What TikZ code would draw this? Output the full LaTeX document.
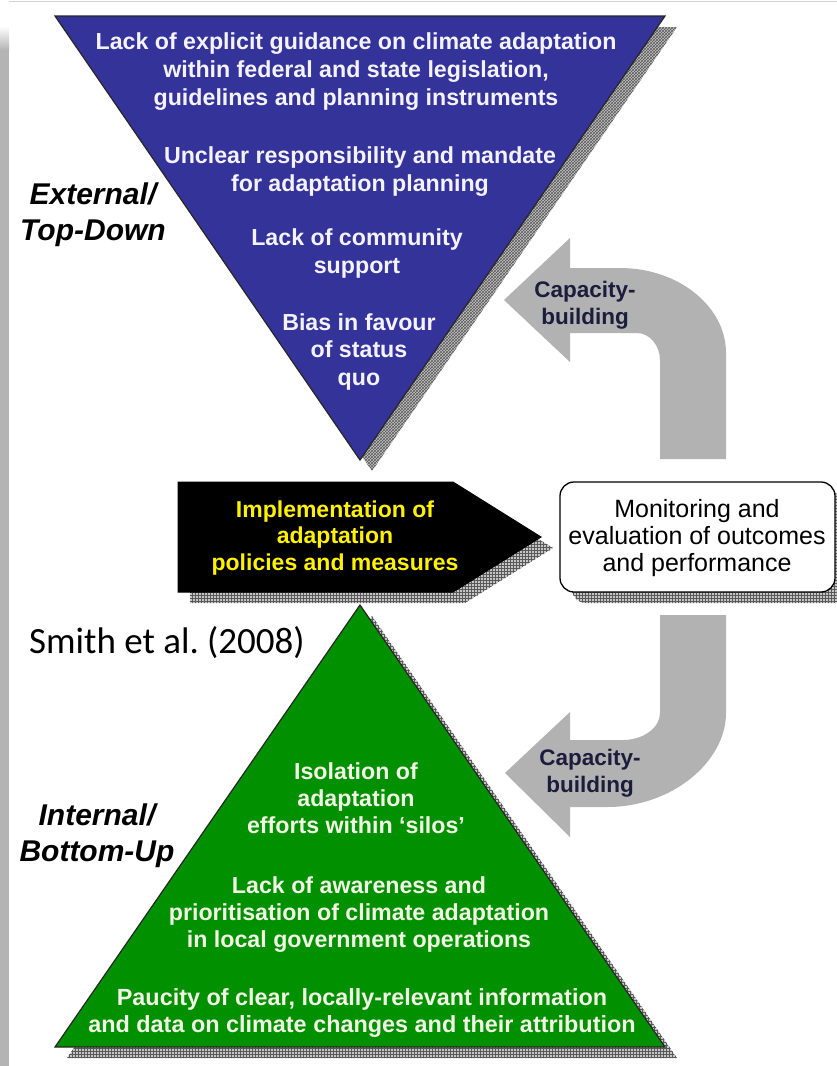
\documentclass[tikz,border=0pt]{standalone}
\usepackage{fontspec}
\setmainfont{Liberation Sans}
\newfontfamily\calibrifont{Carlito}
\usetikzlibrary{patterns}
\definecolor{triblue}{HTML}{333399}
\definecolor{trigreen}{HTML}{009000}
\definecolor{arrowgray}{HTML}{B2B2B2}
\definecolor{bargray}{HTML}{B4B4B4}
\definecolor{bluetext}{HTML}{F4F2FF}
\definecolor{greentext}{HTML}{F2F6E4}
\definecolor{capnavy}{HTML}{1C1C3C}
\tikzset{
  shadowgrid/.style={preaction={fill=gray!45}, pattern=grid, pattern color=gray!70!black},
  shadowcross/.style={preaction={fill=gray!45}, pattern=crosshatch, pattern color=gray!70!black},
  tritext/.style={align=center, anchor=base, inner sep=0pt, font=\fontsize{23.2}{28}\selectfont\bfseries},
  sidelabel/.style={align=center, anchor=base, inner sep=0pt, font=\fontsize{30}{36}\selectfont\bfseries\itshape},
  captext/.style={align=center, anchor=base, inner sep=0pt, text=capnavy, font=\fontsize{22.5}{27}\selectfont\bfseries},
  bigarrow/.style={fill=arrowgray}
}
\begin{document}
\begin{tikzpicture}[x=1pt,y=-1pt]
\useasboundingbox (0,0) rectangle (837,1066);
\fill[white] (0,0) rectangle (837,1066);
% frame remnants
\shade[top color=white, bottom color=bargray] (0,26) rectangle (9,50);
\fill[bargray] (0,50) rectangle (9,1066);
\draw[gray!35, line width=1.5] (9,1.5) -- (837,1.5);

% ---------- coordinates
\coordinate (btl) at (55,16);
\coordinate (btr) at (665,16);
\coordinate (btip) at (360,460);
\coordinate (gtip) at (360,605);
\coordinate (gbl) at (55,1047);
\coordinate (gbr) at (665,1047);

% ---------- shadows
\begin{scope}[shift={(12,11)}]
  \path[shadowcross] (55,16) -- (665,16) -- (360,460) -- cycle;
  \path[shadowgrid] (178,482) -- (453,482) -- (541,537) -- (453,592) -- (178,592) -- cycle;
  \path[shadowgrid, rounded corners=14] (560,482) rectangle (835,592);
  \path[shadowgrid] (360,605) -- (665,1047) -- (55,1047) -- cycle;
\end{scope}

% ---------- triangles
\draw[fill=triblue, draw=black!85, line width=1.2] (btl) -- (btr) -- (btip) -- cycle;
\draw[fill=trigreen, draw=black!85, line width=1.2] (gtip) -- (gbr) -- (gbl) -- cycle;

% ---------- central boxes
\draw[fill=black, line width=1] (178,482) coordinate (ibl) -- (453,482) -- (541,537) coordinate (itip) -- (453,592) -- (178,592) -- cycle;
\draw[fill=white, line width=1.3, rounded corners=14] (560,482) rectangle (835,592);

% ---------- capacity-building arrows
\path[bigarrow] (570,268) -- (620,268) .. controls (678,268) and (726,306) .. (726,353)
  -- (726,459) -- (660,459) -- (660,360) .. controls (660,346) and (650,333) .. (637,333)
  -- (570,333) -- (570,362) -- (504,300) -- (570,238) -- cycle;
\path[bigarrow] (660,615) -- (726,615) -- (726,713) .. controls (726,761) and (673,807) .. (607,807)
  -- (570,807) -- (570,837) -- (505,773) -- (570,712) -- (570,740) -- (623,740)
  .. controls (643,740) and (660,728) .. (660,713) -- cycle;

% ---------- texts: blue triangle (anchor = baseline of last line)
\node[tritext, text=bluetext] (b1) at (356,105) {Lack of explicit guidance on climate adaptation\\within federal and state legislation,\\guidelines and planning instruments};
\node[tritext, text=bluetext] (b2) at (360,191) {Unclear responsibility and mandate\\for adaptation planning};
\node[tritext, text=bluetext] (b3) at (357,273) {Lack of community\\support};
\node[tritext, text=bluetext, font=\fontsize{23.2}{27.5}\selectfont\bfseries] (b4) at (359,385) {Bias in favour\\of status\\quo};

% ---------- texts: green triangle
\node[tritext, text=greentext, font=\fontsize{23.2}{27}\selectfont\bfseries] (g1) at (356,833) {Isolation of\\adaptation\\efforts within ‘silos’};
\node[tritext, text=greentext, font=\fontsize{23.2}{27}\selectfont\bfseries] (g2) at (359,947) {Lack of awareness and\\prioritisation of climate adaptation\\in local government operations};
\node[tritext, text=greentext, font=\fontsize{23.4}{27}\selectfont\bfseries] (g3) at (362,1032) {Paucity of clear, locally-relevant information\\and data on climate changes and their attribution};

% ---------- side labels
\node[sidelabel] (ext) at (93,240) {External/\\Top-Down};
\node[sidelabel] (int) at (97,861) {Internal/\\Bottom-Up};
\node[anchor=base west, inner sep=0pt, font=\calibrifont\fontsize{37}{44}\selectfont] (cite) at (29,653) {Smith et al.\ (2008)};

% ---------- box texts
\node[tritext, text=yellow, font=\fontsize{23}{26.5}\selectfont\bfseries] (impl) at (335,570) {Implementation of\\adaptation\\policies and measures};
\node[tritext, text=black, font=\fontsize{25}{27}\selectfont] (mon) at (697,571) {Monitoring and\\evaluation of outcomes\\and performance};

% ---------- capacity labels
\node[captext] (cap1) at (585,324) {Capacity-\\building};
\node[captext] (cap2) at (590,792) {Capacity-\\building};
\end{tikzpicture}
\end{document}
